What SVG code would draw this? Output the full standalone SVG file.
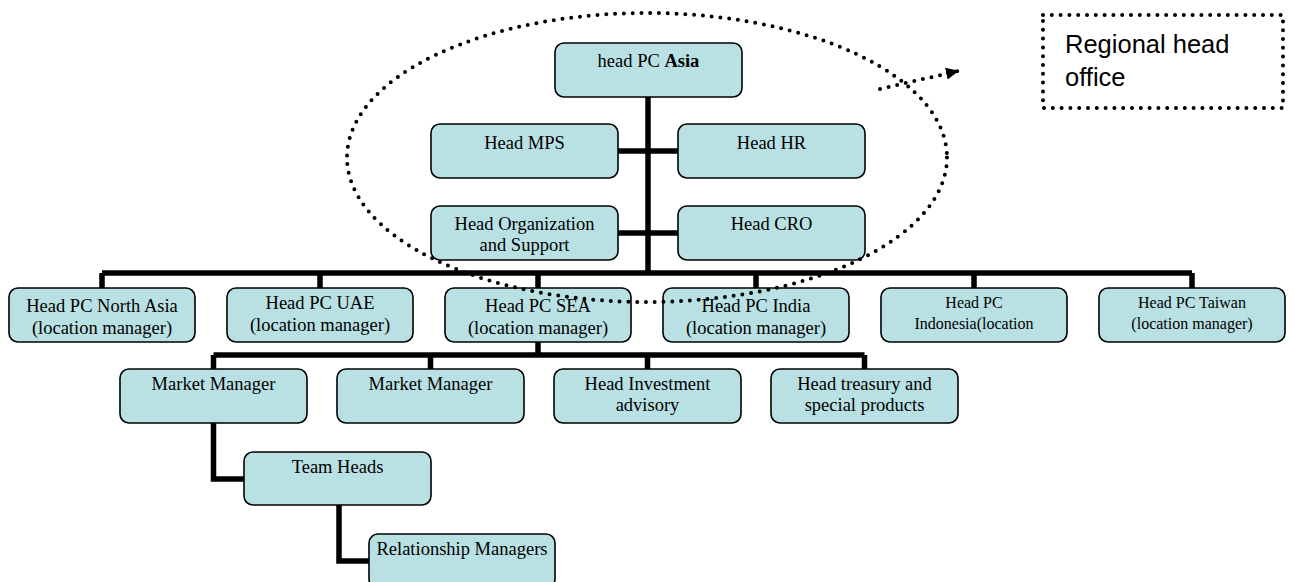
<svg xmlns="http://www.w3.org/2000/svg" width="1294" height="582" viewBox="0 0 1294 582">
  <style>
    .box { fill: #b9e0e3; stroke: #000; stroke-width: 1.6; }
    .lbl { font-family: "Liberation Serif", "Times New Roman", serif; font-size: 18.5px; fill: #000; text-anchor: middle; }
    .sm { font-size: 16px; }
    .conn { fill: none; stroke: #000; stroke-width: 5.5; stroke-linejoin: miter; stroke-linecap: butt; }
    .dots { fill: none; stroke: #000; stroke-width: 4; stroke-linecap: round; stroke-dasharray: 0 8.8; }
    .note { font-family: "Liberation Sans", Tahoma, Arial, sans-serif; font-size: 25.5px; fill: #000; }
  </style>
  <defs>
    <marker id="head" markerUnits="userSpaceOnUse" markerWidth="14" markerHeight="12" refX="12" refY="6" orient="auto">
      <path d="M0,0 L13,6 L0,12 Z" fill="#000"/>
    </marker>
  </defs>
  <rect width="1294" height="582" fill="#fff"/>

  <!-- connectors -->
  <g id="connectors">
    <!-- trunk from head PC Asia down to the country bar -->
    <path class="conn" d="M648,97 V273"/>
    <path class="conn" d="M618,151 H678"/>
    <path class="conn" d="M618,233 H678"/>
    <!-- country level bar -->
    <path class="conn" d="M102,273 H1192"/>
    <path class="conn" d="M102,273 V288 M320,273 V288 M538,273 V288 M756,273 V288 M974,273 V288 M1192,273 V288"/>
    <!-- SEA sub-level -->
    <path class="conn" d="M538,342 V355"/>
    <path class="conn" d="M213.5,355 H864.5"/>
    <path class="conn" d="M213.5,355 V369 M430.5,355 V369 M647.5,355 V369 M864.5,355 V369"/>
    <!-- elbows down the chain -->
    <path class="conn" d="M213.5,423 V479 H244"/>
    <path class="conn" d="M339,505 V561 H369"/>
  </g>

  <!-- regional head office group -->
  <g id="n-asia">
    <rect class="box" x="555" y="43" width="187" height="54" rx="9"/>
    <text class="lbl" x="648.5" y="67">head PC <tspan font-weight="bold">Asia</tspan></text>
  </g>
  <g id="n-mps">
    <rect class="box" x="431" y="124" width="187" height="54" rx="9"/>
    <text class="lbl" x="524.5" y="149">Head MPS</text>
  </g>
  <g id="n-hr">
    <rect class="box" x="678" y="124" width="187" height="54" rx="9"/>
    <text class="lbl" x="771.5" y="149">Head HR</text>
  </g>
  <g id="n-org">
    <rect class="box" x="431" y="206" width="187" height="54" rx="9"/>
    <text class="lbl" x="524.5" y="230">Head Organization</text>
    <text class="lbl" x="524.5" y="251">and Support</text>
  </g>
  <g id="n-cro">
    <rect class="box" x="678" y="206" width="187" height="54" rx="9"/>
    <text class="lbl" x="771.5" y="230">Head CRO</text>
  </g>

  <!-- country heads -->
  <g id="n-northasia">
    <rect class="box" x="9" y="288" width="186" height="54" rx="9"/>
    <text class="lbl" x="102" y="312">Head PC North Asia</text>
    <text class="lbl" x="102" y="334">(location manager)</text>
  </g>
  <g id="n-uae">
    <rect class="box" x="227" y="288" width="186" height="54" rx="9"/>
    <text class="lbl" x="320" y="309">Head PC UAE</text>
    <text class="lbl" x="320" y="331">(location manager)</text>
  </g>
  <g id="n-sea">
    <rect class="box" x="445" y="288" width="186" height="54" rx="9"/>
    <text class="lbl" x="538" y="312">Head PC SEA</text>
    <text class="lbl" x="538" y="334">(location manager)</text>
  </g>
  <g id="n-india">
    <rect class="box" x="663" y="288" width="186" height="54" rx="9"/>
    <text class="lbl" x="756" y="312">Head PC India</text>
    <text class="lbl" x="756" y="334">(location manager)</text>
  </g>
  <g id="n-indonesia">
    <rect class="box" x="881" y="288" width="186" height="54" rx="9"/>
    <text class="lbl sm" x="974" y="308">Head PC</text>
    <text class="lbl sm" x="974" y="329">Indonesia(location</text>
  </g>
  <g id="n-taiwan">
    <rect class="box" x="1099" y="288" width="186" height="54" rx="9"/>
    <text class="lbl sm" x="1192" y="308">Head PC Taiwan</text>
    <text class="lbl sm" x="1192" y="329">(location manager)</text>
  </g>

  <!-- SEA departments -->
  <g id="n-mm1">
    <rect class="box" x="120" y="369" width="187" height="54" rx="9"/>
    <text class="lbl" x="213.5" y="390">Market Manager</text>
  </g>
  <g id="n-mm2">
    <rect class="box" x="337" y="369" width="187" height="54" rx="9"/>
    <text class="lbl" x="430.5" y="390">Market Manager</text>
  </g>
  <g id="n-invest">
    <rect class="box" x="554" y="369" width="187" height="54" rx="9"/>
    <text class="lbl" x="647.5" y="390">Head Investment</text>
    <text class="lbl" x="647.5" y="411">advisory</text>
  </g>
  <g id="n-treasury">
    <rect class="box" x="771" y="369" width="187" height="54" rx="9"/>
    <text class="lbl" x="864.5" y="390">Head treasury and</text>
    <text class="lbl" x="864.5" y="411">special products</text>
  </g>
  <g id="n-team">
    <rect class="box" x="244" y="452" width="187" height="53" rx="9"/>
    <text class="lbl" x="337.5" y="473">Team Heads</text>
  </g>
  <g id="n-rm">
    <rect class="box" x="369" y="534" width="186" height="54" rx="9"/>
    <text class="lbl" x="462" y="555">Relationship Managers</text>
  </g>

  <!-- dotted outline of the regional office and its callout -->
  <g id="regional-outline">
    <ellipse class="dots" cx="647" cy="157.5" rx="300" ry="144.5"/>
    <path class="dots" d="M880,89 L958,71" marker-end="url(#head)"/>
  </g>
  <g id="n-regional-note">
    <rect class="dots" x="1043" y="15" width="240" height="93"/>
    <text class="note" x="1065" y="53">Regional head</text>
    <text class="note" x="1065" y="86">office</text>
  </g>
</svg>
